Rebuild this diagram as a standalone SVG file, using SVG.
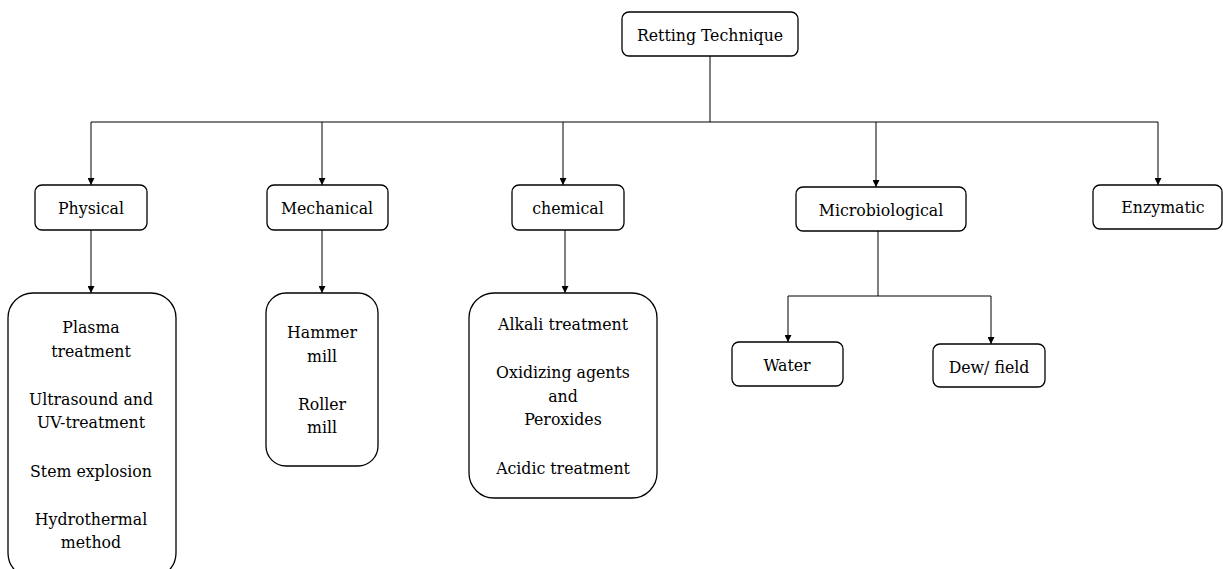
<svg xmlns="http://www.w3.org/2000/svg" width="1223" height="569" viewBox="0 0 1223 569">
<defs>
<style>
.box{fill:#fff;stroke:#000;stroke-width:1.3}
.ln{fill:none;stroke:#000;stroke-width:1}
text{font-family:'DejaVu Serif Condensed','DejaVu Serif',serif;font-size:17.5px;fill:#000;text-anchor:middle}
</style>
<marker id="ah" viewBox="0 0 10 10" refX="10" refY="5" markerWidth="7" markerHeight="7" markerUnits="userSpaceOnUse" orient="auto">
<path d="M0,0 L10,5 L0,10 z" fill="#000"/>
</marker>
</defs>
<rect width="1223" height="569" fill="#fff"/>
<g id="connectors">
<path class="ln" d="M710,56 V122"/>
<path class="ln" d="M91,122 H1158"/>
<path class="ln" d="M91,122 V185" marker-end="url(#ah)"/>
<path class="ln" d="M322,122 V185" marker-end="url(#ah)"/>
<path class="ln" d="M563,122 V185" marker-end="url(#ah)"/>
<path class="ln" d="M876,122 V187" marker-end="url(#ah)"/>
<path class="ln" d="M1158,122 V185" marker-end="url(#ah)"/>
<path class="ln" d="M91,230 V293" marker-end="url(#ah)"/>
<path class="ln" d="M322,230 V293" marker-end="url(#ah)"/>
<path class="ln" d="M565,230 V293" marker-end="url(#ah)"/>
<path class="ln" d="M878,231 V296 M788,296 H991"/>
<path class="ln" d="M788,296 V342" marker-end="url(#ah)"/>
<path class="ln" d="M991,296 V344" marker-end="url(#ah)"/>
</g>
<g id="retting">
<rect class="box" x="622" y="12" width="176" height="44" rx="7"/>
<text x="710" y="41">Retting Technique</text>
</g>
<g id="physical">
<rect class="box" x="35" y="185" width="112" height="45" rx="7"/>
<text x="91" y="214">Physical</text>
</g>
<g id="mechanical">
<rect class="box" x="267" y="185" width="121" height="45" rx="7"/>
<text x="327" y="214">Mechanical</text>
</g>
<g id="chemical">
<rect class="box" x="512" y="185" width="112" height="45" rx="7"/>
<text x="568" y="214">chemical</text>
</g>
<g id="microbiological">
<rect class="box" x="796" y="187" width="170" height="44" rx="7"/>
<text x="881" y="216">Microbiological</text>
</g>
<g id="enzymatic">
<rect class="box" x="1093" y="185" width="129" height="44" rx="7"/>
<text x="1163" y="213">Enzymatic</text>
</g>
<g id="physical-list">
<rect class="box" x="8" y="293" width="168" height="285" rx="25"/>
<text x="91" y="333">Plasma</text>
<text x="91" y="357">treatment</text>
<text x="91" y="405">Ultrasound and</text>
<text x="91" y="428">UV-treatment</text>
<text x="91" y="477">Stem explosion</text>
<text x="91" y="525">Hydrothermal</text>
<text x="91" y="548">method</text>
</g>
<g id="mechanical-list">
<rect class="box" x="266" y="293" width="112" height="173" rx="20"/>
<text x="322" y="338">Hammer</text>
<text x="322" y="362">mill</text>
<text x="322" y="410">Roller</text>
<text x="322" y="433">mill</text>
</g>
<g id="chemical-list">
<rect class="box" x="469" y="293" width="188" height="205" rx="25"/>
<text x="563" y="330">Alkali treatment</text>
<text x="563" y="378">Oxidizing agents</text>
<text x="563" y="402">and</text>
<text x="563" y="425">Peroxides</text>
<text x="563" y="474">Acidic treatment</text>
</g>
<g id="water">
<rect class="box" x="732" y="342" width="111" height="44" rx="7"/>
<text x="787" y="371">Water</text>
</g>
<g id="dew">
<rect class="box" x="933" y="344" width="112" height="43" rx="7"/>
<text x="989" y="373">Dew/ field</text>
</g>
</svg>
